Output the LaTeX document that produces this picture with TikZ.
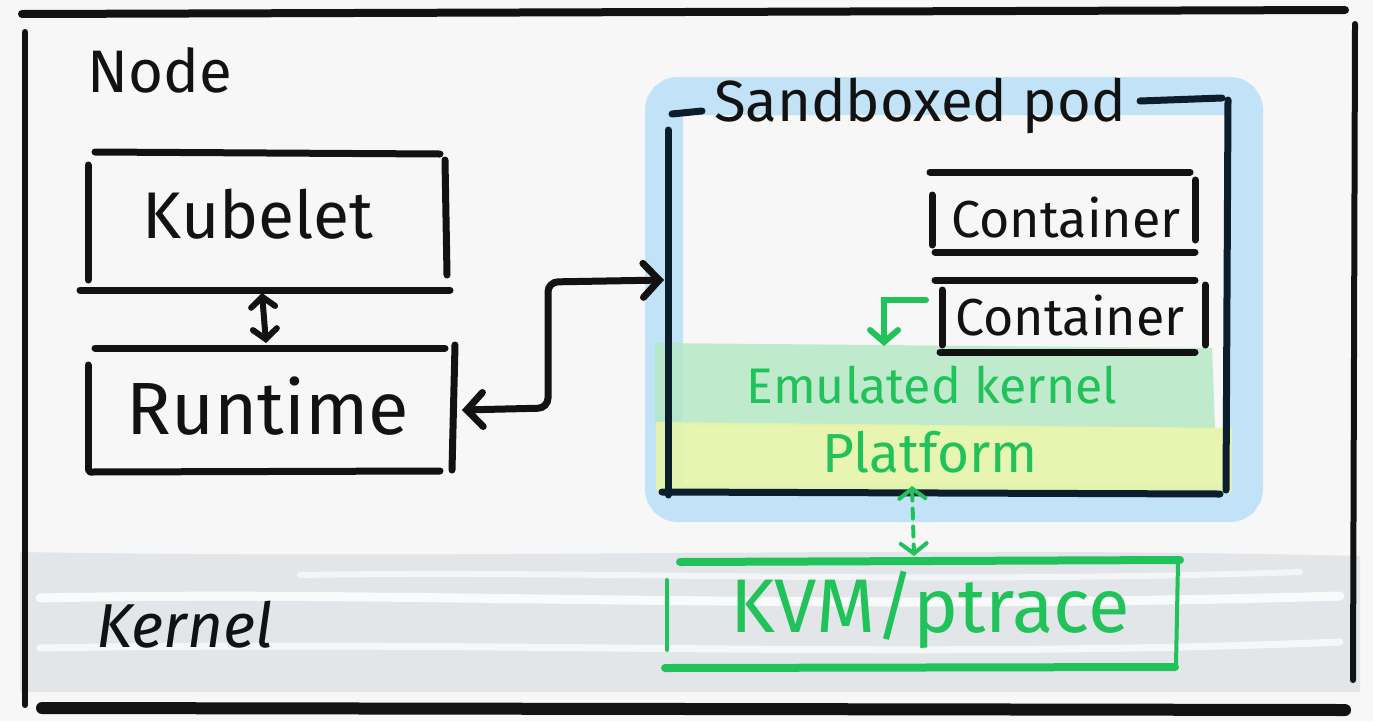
\documentclass[tikz,border=0pt]{standalone}
\usepackage{fontspec}
\setmainfont{Fira Sans}
\usetikzlibrary{arrows.meta}
\definecolor{ink}{HTML}{121212}
\definecolor{navy}{HTML}{0C1D2B}
\definecolor{grn}{HTML}{22C25A}
\definecolor{bgc}{HTML}{F7F7F8}
\definecolor{kband}{HTML}{E3E6E9}
\definecolor{hblue}{HTML}{C2E3F7}
\definecolor{hgreen}{HTML}{B6E8C4}
\definecolor{hyellow}{HTML}{E6F5A9}
\tikzset{
  stroke/.style={draw=ink, line width=7pt, line cap=round},
  gstroke/.style={draw=grn, line width=6pt, line cap=round},
  lbl/.style={font=\fontsize{#1pt}{#1pt}\selectfont, inner sep=0pt},
  barb/.style={-{Straight Barb[length=16pt,width=34pt,line cap=round]}},
  dbarb/.style={{Straight Barb[length=16pt,width=34pt,line cap=round]}-{Straight Barb[length=16pt,width=34pt,line cap=round]}},
  sbarb/.style={{Straight Barb[length=10pt,width=24pt,line cap=round]}-{Straight Barb[length=10pt,width=24pt,line cap=round]}},
}
\begin{document}
\begin{tikzpicture}[x=1pt,y=-1pt]
\useasboundingbox (0,0) rectangle (1373,721);
\fill[bgc] (0,0) rectangle (1373,721);
% kernel band
\fill[kband] (20,552) .. controls (500,560) and (900,545) .. (1360,556) -- (1360,692) -- (20,692) -- cycle;
\draw[white, line width=9pt, opacity=0.8, line cap=round] (40,598) .. controls (400,590) and (800,612) .. (1340,596);
\draw[white, line width=7pt, opacity=0.7, line cap=round] (40,648) .. controls (500,640) and (900,660) .. (1340,642);
\draw[white, line width=6pt, opacity=0.6, line cap=round] (300,575) .. controls (600,570) and (900,585) .. (1300,572);
% outer frame
\draw[stroke, line width=8pt] (22,14) -- (1345,10);
\draw[stroke, line width=6pt] (25,32) -- (25,705);
\draw[stroke, line width=6pt] (1355,24) -- (1353,680);
\draw[stroke, line width=12pt] (42,708) -- (1345,710);
% pod highlight
\draw[hblue, line width=38pt, rounded corners=14pt] (664,96) rectangle (1244,503);
\fill[hgreen, opacity=0.85] (655,343) -- (1212,348) -- (1215,428) -- (655,425) -- cycle;
\fill[hyellow, opacity=0.9] (656,422) -- (1232,428) -- (1232,492) -- (656,490) -- cycle;
% pod frame
\draw[stroke, draw=navy] (668,130) -- (668,495);
\draw[stroke, draw=navy] (1228,100) -- (1226,490);
\draw[stroke, draw=navy] (662,492) -- (1220,494);
\draw[stroke, draw=navy] (672,114) -- (702,111);
\draw[stroke, draw=navy] (1140,101) -- (1222,98);
\node[lbl=58, text=ink] (podlbl) at (920,106) {Sandboxed pod};
% Node label
\node[lbl=60, text=ink] (nodelbl) at (160,70) {Node};
% Kubelet box
\draw[stroke] (95,152) -- (440,154);
\draw[stroke] (80,290) -- (450,290);
\draw[stroke] (88,165) -- (88,280);
\draw[stroke] (445,160) -- (447,275);
\node[lbl=66, text=ink] (kubelet) at (258,214) {Kubelet};
% Runtime box
\draw[stroke] (95,348) -- (445,348);
\draw[stroke] (90,472) -- (440,471);
\draw[stroke] (88,365) -- (88,470);
\draw[stroke] (455,345) -- (452,470);
\node[lbl=74, text=ink] (runtime) at (268,406) {Runtime};
% Kubelet <-> Runtime
\coordinate (kubS) at (262,293);
\coordinate (rtN) at (266,343);
\draw[stroke, line width=6pt, sbarb] (kubS) -- (rtN);
% Runtime <-> pod
\coordinate (rtE) at (462,410);
\coordinate (podW) at (664,280);
\draw[stroke, dbarb, rounded corners=10pt] (rtE) -- (548,408) -- (548,282) -- (podW);
% Containers
\draw[stroke] (930,172) -- (1190,172);
\draw[stroke] (935,252) -- (1195,252);
\draw[stroke] (932,195) -- (932,245);
\draw[stroke] (1195,180) -- (1195,240);
\node[lbl=52, text=ink] (cont1) at (1066,218) {Container};
\draw[stroke] (935,280) -- (1195,280);
\draw[stroke] (940,352) -- (1195,352);
\draw[stroke] (942,290) -- (942,345);
\draw[stroke] (1205,285) -- (1205,345);
\node[lbl=52, text=ink] (cont2) at (1070,316) {Container};
% green hook arrow
\coordinate (hookS) at (926,300);
\coordinate (hookE) at (884,346);
\draw[gstroke, -{Straight Barb[length=12pt,width=28pt,line cap=round]}] (hookS) -- (884,300) -- (hookE);
% emulated kernel / platform
\node[lbl=50, text=grn] (emu) at (932,385) {Emulated kernel};
\node[lbl=55, text=grn] (plat) at (930,452) {Platform};
% KVM box
\draw[gstroke, line width=8pt] (680,562) -- (1180,560);
\draw[gstroke, line width=8pt] (665,668) -- (1175,667);
\draw[gstroke, line width=4pt] (667,580) -- (667,650);
\draw[gstroke, line width=4pt] (1178,562) -- (1176,665);
\node[lbl=76, text=grn] (kvm) at (930,610) {KVM/ptrace};
% dashed arrow
\coordinate (platS) at (912,486);
\coordinate (kvmN) at (914,556);
\draw[gstroke, line width=4pt, dashed, dash pattern=on 10pt off 8pt, {Straight Barb[length=10pt,width=26pt,line cap=round]}-{Straight Barb[length=10pt,width=26pt,line cap=round]}] (platS) -- (kvmN);
% Kernel label
\node[lbl=62, text=ink, font=\fontsize{62pt}{62pt}\selectfont\itshape] (kernel) at (185,625) {Kernel};
\end{tikzpicture}
\end{document}
